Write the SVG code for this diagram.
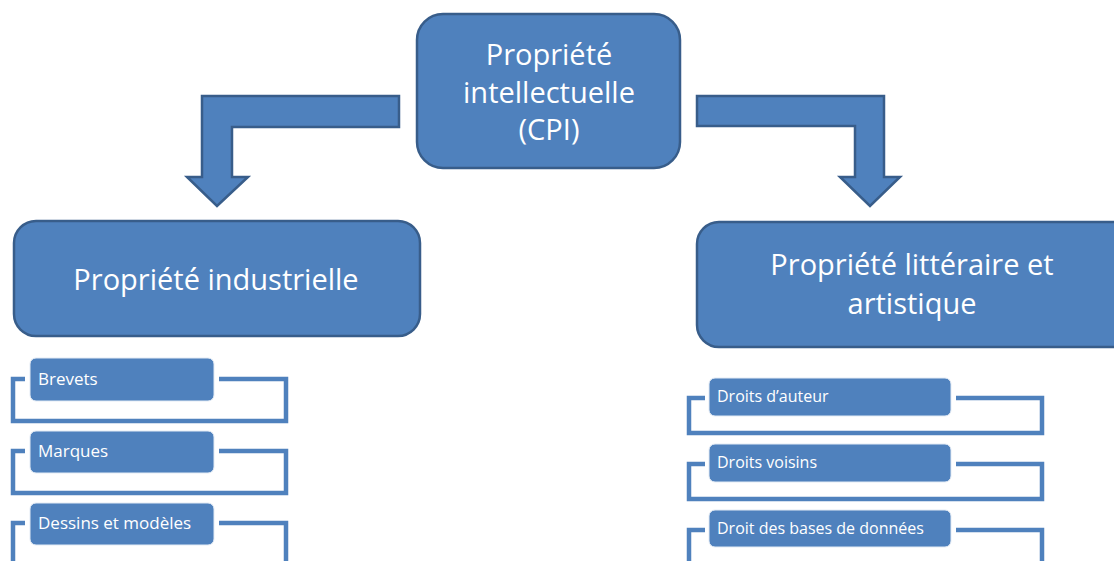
<svg xmlns="http://www.w3.org/2000/svg" width="1114" height="561" viewBox="0 0 1114 561">
<style>
.big{fill:#4f81bd;stroke:#385d8a;stroke-width:2.5}
.arrow{fill:#4f81bd;stroke:#385d8a;stroke-width:2.5;stroke-linejoin:miter}
.small{fill:#4f81bd;stroke:#e3ebf5;stroke-width:1}
.br{fill:none;stroke:#4f81bd;stroke-width:4.5;stroke-linejoin:miter}
.t1{font-family:"Open Sans","Liberation Sans",Arial,sans-serif;font-size:29px;fill:#ffffff;text-anchor:middle}
.t2{font-family:"Open Sans","Liberation Sans",Arial,sans-serif;font-size:17px;fill:#ffffff}
.t3{font-family:"Open Sans","Liberation Sans",Arial,sans-serif;font-size:16px;fill:#ffffff}
</style>
<rect width="1114" height="561" fill="#ffffff"/>
<g id="connectors">
<path class="arrow" d="M399,96 L202,96 L202,177 L187,177 L217,206 L248,177 L232,177 L232,127 L399,127 Z"/>
<path class="arrow" d="M697,96 L884,96 L884,177 L900,177 L870,206 L840,177 L855,177 L855,126 L697,126 Z"/>
<path class="br" d="M25,379 H13 V421 H286 V379 H219"/>
<path class="br" d="M25,451 H13 V493 H286 V451 H219"/>
<path class="br" d="M25,523 H13 V565 M286,565 V523 H219"/>
<path class="br" d="M705,398 H689 V433 H1042 V398 H956"/>
<path class="br" d="M705,464 H689 V499 H1042 V464 H956"/>
<path class="br" d="M705,530 H689 V565 M1042,565 V530 H956"/>
</g>
<g id="node-cpi">
<rect class="big" x="417" y="14" width="263" height="154" rx="26"/>
<text class="t1" x="549" y="65">Propriété</text>
<text class="t1" x="549" y="103">intellectuelle</text>
<text class="t1" x="549" y="140">(CPI)</text>
</g>
<g id="node-industrielle">
<rect class="big" x="14" y="221" width="406" height="115" rx="22"/>
<text class="t1" x="216" y="290">Propriété industrielle</text>
</g>
<g id="node-litteraire">
<rect class="big" x="697" y="222" width="440" height="125" rx="22"/>
<text class="t1" x="912" y="275">Propriété littéraire et</text>
<text class="t1" x="912" y="314">artistique</text>
</g>
<g id="node-brevets">
<rect class="small" x="30" y="358" width="184" height="43" rx="6"/>
<text class="t2" x="38" y="385">Brevets</text>
</g>
<g id="node-marques">
<rect class="small" x="30" y="431" width="184" height="42" rx="6"/>
<text class="t2" x="38" y="457">Marques</text>
</g>
<g id="node-dessins">
<rect class="small" x="30" y="503" width="184" height="42" rx="6"/>
<text class="t2" x="38" y="529">Dessins et modèles</text>
</g>
<g id="node-auteur">
<rect class="small" x="709" y="378" width="242" height="38" rx="6"/>
<text class="t3" x="717" y="402">Droits d’auteur</text>
</g>
<g id="node-voisins">
<rect class="small" x="709" y="444" width="242" height="38" rx="6"/>
<text class="t3" x="717" y="468">Droits voisins</text>
</g>
<g id="node-bases">
<rect class="small" x="709" y="510" width="242" height="37" rx="6"/>
<text class="t3" x="717" y="534">Droit des bases de données</text>
</g>
</svg>
